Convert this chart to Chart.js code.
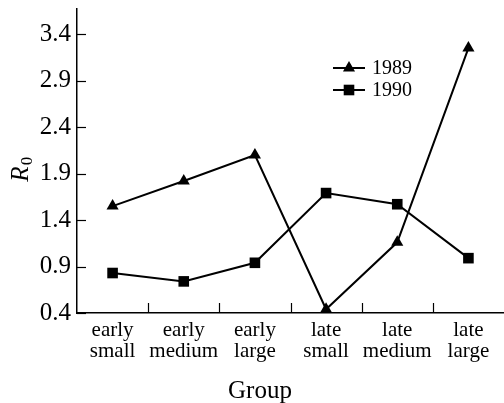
<!DOCTYPE html>
<html>
<head>
<meta charset="utf-8">
<script src="https://cdn.jsdelivr.net/npm/chart.js@4/dist/chart.umd.min.js"></script>
<style>
  html, body { margin: 0; padding: 0; background: #fff; }
  #wrap { width: 504px; height: 403px; }
</style>
</head>
<body>
<div id="wrap"><canvas id="r0Chart" width="504" height="403"></canvas></div>
<script>
// R0 by group, 1989 vs 1990

const groups = [
    ['early', 'small'], ['early', 'medium'], ['early', 'large'],
    ['late', 'small'], ['late', 'medium'], ['late', 'large']
];
const r0_1989 = [1.55, 1.82, 2.10, 0.44, 1.16, 3.25];
const r0_1990 = [0.83, 0.74, 0.94, 1.69, 1.57, 0.99];
const yTicks = [0.4, 0.9, 1.4, 1.9, 2.4, 2.9, 3.4];

const SERIF = '"Liberation Serif", "DejaVu Serif", serif';

// --- Custom drawing: inward ticks, legend, axis titles ---

const decorPlugin = {
    id: 'decor',
    afterDraw(chart) {
        const ctx = chart.ctx;
        const x = chart.scales.x;
        const y = chart.scales.y;
        const area = chart.chartArea;

        ctx.save();
        ctx.strokeStyle = '#000';
        ctx.lineWidth = 1.2;

        // y ticks pointing inwards
        yTicks.forEach(v => {
            const py = Math.round(y.getPixelForValue(v)) + 0.5;
            ctx.beginPath();
            ctx.moveTo(area.left, py);
            ctx.lineTo(area.left + 9, py);
            ctx.stroke();
        });

        // x ticks at category boundaries, pointing up
        const n = groups.length;
        const step = (x.right - x.left) / n;
        for (let i = 1; i < n; i++) {
            const px = Math.round(x.left + i * step) + 0.5;
            ctx.beginPath();
            ctx.moveTo(px, area.bottom);
            ctx.lineTo(px, area.bottom - 10);
            ctx.stroke();
        }

        // legend
        const lx = 333, ly = 68, gap = 22;
        chart.data.datasets.forEach((ds, i) => {
            const yy = ly + i * gap;
            ctx.lineWidth = 2;
            ctx.beginPath();
            ctx.moveTo(lx, yy);
            ctx.lineTo(lx + 32, yy);
            ctx.stroke();
            ctx.fillStyle = '#000';
            Chart.helpers.drawPoint(ctx, {
                pointStyle: ds.pointStyle,
                radius: ds.pointRadius,
                borderWidth: 0
            }, lx + 16, yy);
            ctx.font = '20px ' + SERIF;
            ctx.textAlign = 'left';
            ctx.textBaseline = 'middle';
            ctx.fillText(ds.label, lx + 39, yy + 1);
        });

        // x title
        ctx.font = '25px ' + SERIF;
        ctx.textAlign = 'center';
        ctx.textBaseline = 'alphabetic';
        ctx.fillText('Group', 260, 398);

        // y title: italic R with subscript 0
        ctx.translate(28, 170);
        ctx.rotate(-Math.PI / 2);
        ctx.textAlign = 'left';
        ctx.font = 'italic 25px ' + SERIF;
        const rw = ctx.measureText('R').width;
        ctx.fillText('R', -rw / 2 - 4, 0);
        ctx.font = '17px ' + SERIF;
        ctx.fillText('0', rw / 2 - 3, 4);

        ctx.restore();
    }
};

new Chart(document.getElementById('r0Chart'), {
    type: 'line',
    data: {
        labels: groups,
        datasets: [
            {
                label: '1989',
                data: r0_1989,
                borderColor: '#000',
                backgroundColor: '#000',
                borderWidth: 2,
                pointStyle: 'triangle',
                pointRadius: 7,
                pointBorderWidth: 0,
                tension: 0,
                clip: false
            },
            {
                label: '1990',
                data: r0_1990,
                borderColor: '#000',
                backgroundColor: '#000',
                borderWidth: 2,
                pointStyle: 'rect',
                pointRadius: 7.5,
                pointBorderWidth: 0,
                tension: 0,
                clip: false
            }
        ]
    },
    options: {
        responsive: false,
        animation: false,
        layout: { autoPadding: false, padding: { top: 9, right: 0, left: 0, bottom: 0 } },
        plugins: {
            legend: { display: false },
            tooltip: { enabled: false }
        },
        scales: {
            x: {
                type: 'category',
                offset: true,
                grid: { display: false, drawTicks: false },
                border: { display: true, color: '#000', width: 1.5 },
                ticks: {
                    color: '#000',
                    padding: 7,
                    maxRotation: 0,
                    autoSkip: false,
                    font: { family: SERIF, size: 21, lineHeight: 1.0 }
                },
                afterFit: (scale) => {
                    scale.height = 90;
                    scale.paddingLeft = 0;
                    scale.paddingRight = 0;
                }
            },
            y: {
                min: 0.4,
                max: 3.67,
                grid: { display: false, drawTicks: false },
                border: { display: true, color: '#000', width: 1.5 },
                afterBuildTicks: (scale) => {
                    scale.ticks = yTicks.map(v => ({ value: v }));
                },
                ticks: {
                    color: '#000',
                    padding: 6,
                    font: { family: SERIF, size: 25 },
                    callback: (v) => v.toFixed(1)
                },
                afterFit: (scale) => {
                    scale.width = 77;
                    scale.paddingTop = 0;
                    scale.paddingBottom = 0;
                }
            }
        }
    },
    plugins: [decorPlugin]
});
</script>
</body>
</html>
